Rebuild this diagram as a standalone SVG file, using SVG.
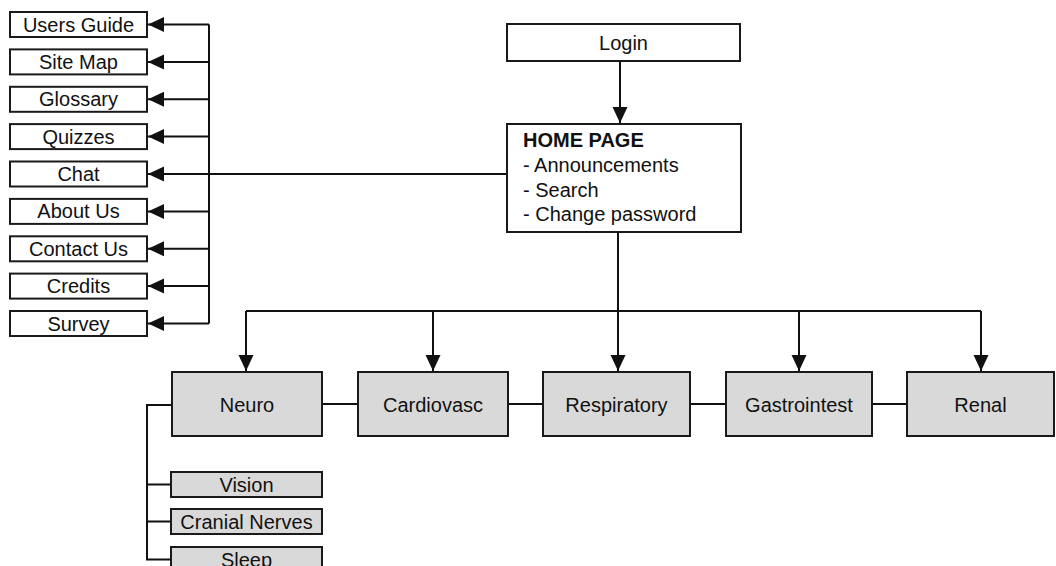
<svg xmlns="http://www.w3.org/2000/svg" width="1056" height="566" viewBox="0 0 1056 566">
<defs>
<style>
.box{fill:#fff;stroke:#1a1a1a;stroke-width:2}
.gbox{fill:#d9d9d9;stroke:#1a1a1a;stroke-width:2}
.t{font-family:"Liberation Sans",Arial,sans-serif;font-size:20px;fill:#111;text-anchor:middle}
.tl{font-family:"Liberation Sans",Arial,sans-serif;font-size:20px;fill:#111}
.c{fill:none;stroke:#111;stroke-width:2}
.a{fill:none;stroke:#111;stroke-width:2;marker-end:url(#ah)}
</style>
<marker id="ah" markerUnits="userSpaceOnUse" markerWidth="16" markerHeight="16" refX="16" refY="8" orient="auto">
<path d="M0,0.5 L16,8 L0,15.5 z" fill="#111"/>
</marker>
</defs>
<rect width="1056" height="566" fill="#fff"/>

<g id="connectors">
<path class="c" d="M209,24.5 V323.5"/>
<path class="a" d="M209,24.5 H148"/>
<path class="a" d="M209,61.9 H148"/>
<path class="a" d="M209,99.3 H148"/>
<path class="a" d="M209,136.6 H148"/>
<path class="a" d="M507,174 H148"/>
<path class="a" d="M209,211.4 H148"/>
<path class="a" d="M209,248.8 H148"/>
<path class="a" d="M209,286.1 H148"/>
<path class="a" d="M209,323.5 H148"/>
<path class="a" d="M620,61 V123"/>
<path class="a" d="M618,232 V371"/>
<path class="c" d="M246,311 H981"/>
<path class="a" d="M246,311 V371"/>
<path class="a" d="M433,311 V371"/>
<path class="a" d="M799,311 V371"/>
<path class="a" d="M981,311 V371"/>
<path class="c" d="M322,404 H358 M508,404 H543 M690,404 H726 M872,404 H907"/>
<path class="c" d="M172,405 H147 V559.5 H171 M147,484.5 H171 M147,521.5 H171"/>
</g>

<g id="n-users-guide"><rect class="box" x="10" y="12" width="137" height="25"/><text class="t" x="78.5" y="31.5">Users Guide</text></g>
<g id="n-site-map"><rect class="box" x="10" y="49.4" width="137" height="25"/><text class="t" x="78.5" y="68.9">Site Map</text></g>
<g id="n-glossary"><rect class="box" x="10" y="86.8" width="137" height="25"/><text class="t" x="78.5" y="106.3">Glossary</text></g>
<g id="n-quizzes"><rect class="box" x="10" y="124.1" width="137" height="25"/><text class="t" x="78.5" y="143.6">Quizzes</text></g>
<g id="n-chat"><rect class="box" x="10" y="161.5" width="137" height="25"/><text class="t" x="78.5" y="181">Chat</text></g>
<g id="n-about-us"><rect class="box" x="10" y="198.9" width="137" height="25"/><text class="t" x="78.5" y="218.4">About Us</text></g>
<g id="n-contact-us"><rect class="box" x="10" y="236.3" width="137" height="25"/><text class="t" x="78.5" y="255.8">Contact Us</text></g>
<g id="n-credits"><rect class="box" x="10" y="273.6" width="137" height="25"/><text class="t" x="78.5" y="293.1">Credits</text></g>
<g id="n-survey"><rect class="box" x="10" y="311" width="137" height="25"/><text class="t" x="78.5" y="330.5">Survey</text></g>

<g id="n-login"><rect class="box" x="507" y="24" width="233" height="37"/><text class="t" x="623.5" y="50">Login</text></g>
<g id="n-home"><rect class="box" x="507" y="124" width="234" height="108"/>
<text class="tl" x="523" y="147" font-weight="bold">HOME PAGE</text>
<text class="tl" x="523" y="172">- Announcements</text>
<text class="tl" x="523" y="196.5">- Search</text>
<text class="tl" x="523" y="221">- Change password</text>
</g>

<g id="n-neuro"><rect class="gbox" x="172" y="372" width="150" height="64"/><text class="t" x="247" y="411.5">Neuro</text></g>
<g id="n-cardiovasc"><rect class="gbox" x="358" y="372" width="150" height="64"/><text class="t" x="433" y="411.5">Cardiovasc</text></g>
<g id="n-respiratory"><rect class="gbox" x="543" y="372" width="147" height="64"/><text class="t" x="616.5" y="411.5">Respiratory</text></g>
<g id="n-gastrointest"><rect class="gbox" x="726" y="372" width="146" height="64"/><text class="t" x="799" y="411.5">Gastrointest</text></g>
<g id="n-renal"><rect class="gbox" x="907" y="372" width="147" height="64"/><text class="t" x="980.5" y="411.5">Renal</text></g>

<g id="n-vision"><rect class="gbox" x="171" y="472" width="151" height="25"/><text class="t" x="246.5" y="491.5">Vision</text></g>
<g id="n-cranial"><rect class="gbox" x="171" y="509" width="151" height="25"/><text class="t" x="246.5" y="528.5">Cranial Nerves</text></g>
<g id="n-sleep"><rect class="gbox" x="171" y="547" width="151" height="25"/><text class="t" x="246.5" y="566.5">Sleep</text></g>
</svg>
